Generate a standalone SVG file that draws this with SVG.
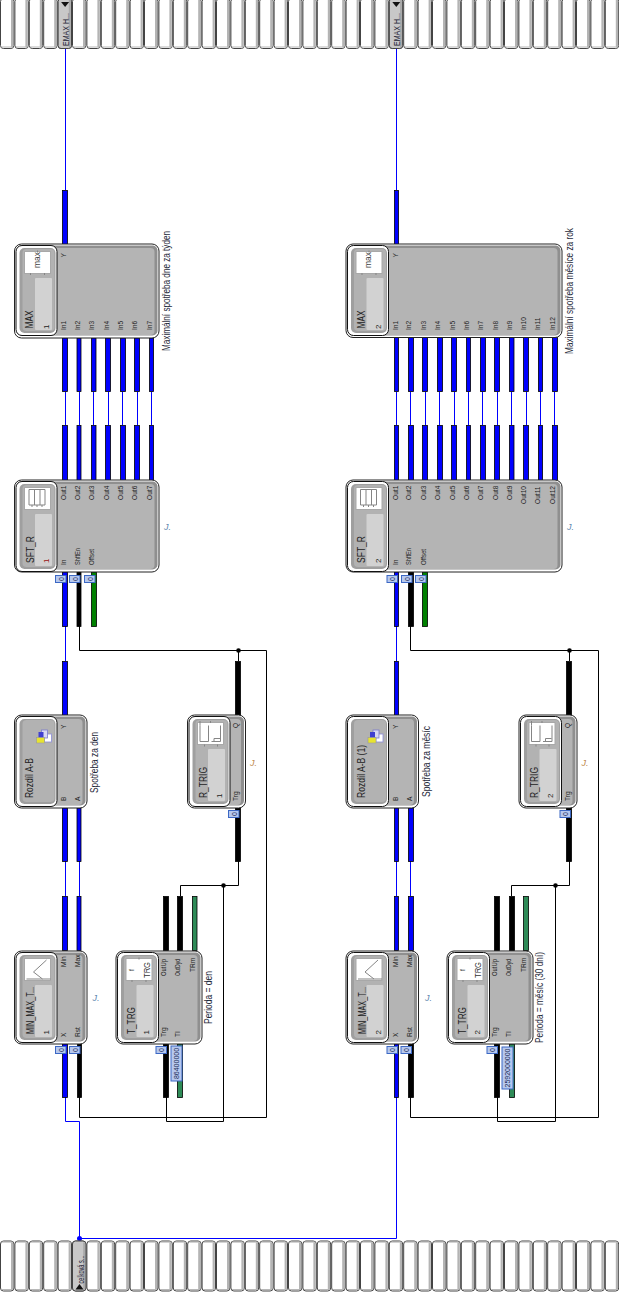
<svg xmlns="http://www.w3.org/2000/svg" xmlns:xlink="http://www.w3.org/1999/xlink" width="619" height="1292" viewBox="0 0 619 1292">
<style>
text{font-family:"Liberation Sans",Arial,sans-serif;fill:#1c1c1c}
.port{font-size:6.6px}
.name{font-size:10.5px;fill:#222}
.num{font-size:8px;fill:#222}
.desc{font-size:10px;fill:#1f2a3a}
.mark{font-size:9px;font-style:italic;fill:#5f88b0}
.mo{fill:#c08a50}
.band{font-size:8.5px;fill:#223}
.cv{font-size:7px;fill:#1a2a55;text-anchor:middle}
.w{fill:none;stroke-width:1}
.wb{stroke:#0000ff}
.wk{stroke:#000}
.sb{fill:#0000ff;stroke:#000;stroke-width:.8}
.sk{fill:#000;stroke:#000;stroke-width:.8}
.sg{fill:#008000;stroke:#000;stroke-width:.8}
.ss{fill:#2e8b57;stroke:#000;stroke-width:.8}
.jb{fill:#0000ff}
.jk{fill:#000}
.o{fill:#fff;stroke:#222;stroke-width:1}
.e{fill:#8f8f8f}
.f{fill:#b4b4b4}
.pa{fill:#fff;stroke:#111;stroke-width:1}
.pb{fill:#9f9f9f}
.pc{fill:#b2b2b2}
.im{fill:#fff;stroke:#a8a8a8;stroke-width:1}
.lt{fill:#d2d2d2}
.c{fill:#b6c8ee;stroke:#3c68c4;stroke-width:1}
.ic{fill:none;stroke:#858585;stroke-width:1}
</style>
<defs>
<g id="cell">
<rect x="0.5" y="0.5" width="13.4" height="50" rx="3" fill="#fff" stroke="#444"/>
<rect x="11" y="2" width="2.2" height="47" fill="#b4b4b4"/>
<rect x="1.500" y="1" width="11.400" height="1" fill="#a8a8a8"/>
<rect x="1.500" y="48.500" width="11.400" height="1" fill="#b8b8b8"/>
</g>
<g id="row">
<use xlink:href="#cell" x="0"/><use xlink:href="#cell" x="14.4"/><use xlink:href="#cell" x="28.8"/><use xlink:href="#cell" x="43.2"/><use xlink:href="#cell" x="57.6"/><use xlink:href="#cell" x="72"/><use xlink:href="#cell" x="86.4"/><use xlink:href="#cell" x="100.8"/><use xlink:href="#cell" x="115.2"/><use xlink:href="#cell" x="129.6"/><use xlink:href="#cell" x="144"/><use xlink:href="#cell" x="158.4"/><use xlink:href="#cell" x="172.8"/><use xlink:href="#cell" x="187.2"/><use xlink:href="#cell" x="201.6"/><use xlink:href="#cell" x="216"/><use xlink:href="#cell" x="230.4"/><use xlink:href="#cell" x="244.8"/><use xlink:href="#cell" x="259.2"/><use xlink:href="#cell" x="273.6"/><use xlink:href="#cell" x="288"/><use xlink:href="#cell" x="302.4"/><use xlink:href="#cell" x="316.8"/><use xlink:href="#cell" x="331.2"/><use xlink:href="#cell" x="345.6"/><use xlink:href="#cell" x="360"/><use xlink:href="#cell" x="374.4"/><use xlink:href="#cell" x="388.8"/><use xlink:href="#cell" x="403.2"/><use xlink:href="#cell" x="417.6"/><use xlink:href="#cell" x="432"/><use xlink:href="#cell" x="446.4"/><use xlink:href="#cell" x="460.8"/><use xlink:href="#cell" x="475.2"/><use xlink:href="#cell" x="489.6"/><use xlink:href="#cell" x="504"/><use xlink:href="#cell" x="518.4"/><use xlink:href="#cell" x="532.8"/><use xlink:href="#cell" x="547.2"/><use xlink:href="#cell" x="561.6"/><use xlink:href="#cell" x="576"/><use xlink:href="#cell" x="590.4"/><use xlink:href="#cell" x="604.8"/>
</g>
<g id="hi">
<rect x="0.5" y="0.5" width="13.4" height="50" rx="3" fill="#c8c8c8" stroke="#444"/>
<rect x="11.200" y="2" width="2" height="47" fill="#aaa"/>
</g>
<g id="panel">
<rect x="1.5" y="1.5" width="41" height="90" rx="6" class="pa"/>
<rect x="5" y="4" width="36" height="85" rx="5" class="pb"/>
<rect x="8" y="5" width="32" height="82" rx="4" class="pc"/>
</g>
<g id="iconbox">
<rect x="10" y="7.5" width="26" height="22" class="im"/>
<rect x="20.5" y="34" width="17" height="52" rx="1" class="lt"/>
</g>
<g id="docs">
<rect x="30" y="19" width="7" height="8" fill="#fff" stroke="#8a8ad8" stroke-width=".8"/>
<rect x="27" y="15" width="6" height="8" fill="#d8d8f4" stroke="#7a7ad0" stroke-width=".8"/>
<rect x="24" y="17" width="5" height="7" fill="#4040d0"/>
<rect x="22" y="22.500" width="8" height="5.500" fill="#e8e430" stroke="#999" stroke-width=".6"/>
</g>
<path id="rampicon" class="ic" d="M12 28h24M32 9L19 21L28 28"/>
<path id="pulseicon" class="ic" d="M12.500 6v4.500v16h8.500v-16M24 26.500h9V10.500M26.500 26.500v-3h6M17 29.500v2M30 29.500v2M23 6v2"/>
<path id="sfticon" class="ic" d="M14.500 9.500h16v15.500h-16zM20 9.500v15.500M25.500 9.500v15.500M17.500 25v2M22.500 25v2M27.500 25v2"/>
<path id="maxticks" class="ic" d="M23 6.500v2M16 29v2M30 29v2"/>
</defs>

<g id="connectors">
<path class="w wb" d="M65.5 49V190M396.5 49V190"/>
<path class="w wb" d="M65.5 392V425M79.5 392V425M93.5 392V425M108.5 392V425M122.5 392V425M137.5 392V425M151.5 392V425"/>
<path class="w wb" d="M396.5 392V425M410.5 392V425M425.5 392V425M439.5 392V425M454.5 392V425M468.5 392V425M482.5 392V425M497.5 392V425M511.5 392V425M526.5 392V425M540.5 392V425M554.5 392V425"/>
<path class="w wb" d="M65.5 626V661M396.5 626V661M65.5 861V896M79.5 861V896M396.5 861V896M410.5 861V896"/>
<path class="w wb" d="M65.5 1097V1121.5H79.5V1238.5H396.5V1097"/>
<path class="w wk" d="M79.5 626V650.5H266.5V1117.5H79.5V1097M238.5 650.5V661M238.5 861V885.5H180.5V896M223.5 885.5V1121.5H166.5V1097"/>
<path class="w wk" d="M410.5 626V650.5H598.5V1117.5H410.5V1097M569.5 650.5V661M569.5 861V885.5H511.5V896M555.5 885.5V1121.5H497.5V1097"/>
<circle class="jb" cx="79.5" cy="1238.5" r="2.5"/>
<circle class="jk" cx="238.5" cy="650.5" r="2.3"/><circle class="jk" cx="223.5" cy="885.5" r="2.3"/>
<circle class="jk" cx="569.5" cy="650.5" r="2.3"/><circle class="jk" cx="555.5" cy="885.5" r="2.3"/>
<rect class="sb" x="62.5" y="190.5" width="5" height="54"/>
<rect class="sb" x="62.5" y="338" width="5" height="53.5"/><rect class="sb" x="77" y="338" width="4" height="53.5"/><rect class="sb" x="91.5" y="338" width="4.5" height="53.5"/><rect class="sb" x="105.5" y="338" width="5" height="53.5"/><rect class="sb" x="120.5" y="338" width="5" height="53.5"/><rect class="sb" x="134.5" y="338" width="5" height="53.5"/><rect class="sb" x="149.5" y="338" width="4" height="53.5"/>
<rect class="sb" x="62.5" y="425.5" width="5" height="55"/><rect class="sb" x="77" y="425.5" width="4" height="55"/><rect class="sb" x="91.5" y="425.5" width="4.5" height="55"/><rect class="sb" x="105.5" y="425.5" width="5" height="55"/><rect class="sb" x="120.5" y="425.5" width="5" height="55"/><rect class="sb" x="134.5" y="425.5" width="5" height="55"/><rect class="sb" x="149.5" y="425.5" width="4" height="55"/>
<rect class="sb" x="62.5" y="572" width="5" height="54.5"/><rect class="sk" x="77" y="572" width="4" height="54.5"/><rect class="sg" x="91.5" y="572" width="5" height="54.5"/>
<rect class="sb" x="62.5" y="661.5" width="5" height="54"/>
<rect class="sk" x="235.5" y="661.5" width="5" height="54"/>
<rect class="sb" x="62.5" y="808" width="5" height="53.5"/><rect class="sb" x="77" y="808" width="4" height="53.5"/>
<rect class="sk" x="235.5" y="808" width="5" height="53.5"/>
<rect class="sb" x="62.5" y="896.5" width="5" height="54"/><rect class="sb" x="77" y="896.5" width="4" height="54"/>
<rect class="sk" x="163.5" y="896.5" width="5" height="54"/><rect class="sk" x="177.5" y="896.5" width="5" height="54"/><rect class="ss" x="192.5" y="896.5" width="4.5" height="54"/>
<rect class="sb" x="62.5" y="1044" width="5" height="53.5"/><rect class="sk" x="77.5" y="1044" width="4" height="53.5"/>
<rect class="sk" x="163.5" y="1044" width="5" height="53.5"/><rect class="ss" x="177.5" y="1044" width="5" height="53.5"/>
<rect class="sb" x="394.5" y="190.5" width="4" height="54"/>
<rect class="sb" x="394.5" y="337.5" width="4" height="54"/><rect class="sb" x="408.5" y="337.5" width="5" height="54"/><rect class="sb" x="422.5" y="337.5" width="5" height="54"/><rect class="sb" x="437.5" y="337.5" width="5" height="54"/><rect class="sb" x="451.5" y="337.5" width="5" height="54"/><rect class="sb" x="466.5" y="337.5" width="4" height="54"/><rect class="sb" x="480.5" y="337.5" width="5" height="54"/><rect class="sb" x="494.5" y="337.5" width="5" height="54"/><rect class="sb" x="509.5" y="337.5" width="4.5" height="54"/><rect class="sb" x="523.5" y="337.5" width="5" height="54"/><rect class="sb" x="538.5" y="337.5" width="4" height="54"/><rect class="sb" x="552.5" y="337.5" width="5" height="54"/>
<rect class="sb" x="394.5" y="425.5" width="4" height="55"/><rect class="sb" x="408.5" y="425.5" width="5" height="55"/><rect class="sb" x="422.5" y="425.5" width="5" height="55"/><rect class="sb" x="437.5" y="425.5" width="5" height="55"/><rect class="sb" x="451.5" y="425.5" width="5" height="55"/><rect class="sb" x="466.5" y="425.5" width="4" height="55"/><rect class="sb" x="480.5" y="425.5" width="5" height="55"/><rect class="sb" x="494.5" y="425.5" width="5" height="55"/><rect class="sb" x="509.5" y="425.5" width="4.5" height="55"/><rect class="sb" x="523.5" y="425.5" width="5" height="55"/><rect class="sb" x="538.5" y="425.5" width="4" height="55"/><rect class="sb" x="552.5" y="425.5" width="5" height="55"/>
<rect class="sb" x="394.5" y="572" width="4" height="54.5"/><rect class="sk" x="408.5" y="572" width="5" height="54.5"/><rect class="sg" x="422.5" y="572" width="5" height="54.5"/>
<rect class="sb" x="394.5" y="661.5" width="4" height="54"/>
<rect class="sk" x="566.5" y="661.5" width="5" height="54"/>
<rect class="sb" x="394.5" y="808" width="4" height="53.5"/><rect class="sb" x="408.5" y="808" width="5" height="53.5"/>
<rect class="sk" x="566.5" y="808" width="5" height="53.5"/>
<rect class="sb" x="394.5" y="896.5" width="4" height="54"/><rect class="sb" x="408.5" y="896.5" width="5" height="54"/>
<rect class="sk" x="494.5" y="896.5" width="5" height="54"/><rect class="sk" x="509.5" y="896.5" width="5" height="54"/><rect class="ss" x="523.5" y="896.5" width="5" height="54"/>
<rect class="sb" x="394.5" y="1044" width="4" height="53.5"/><rect class="sk" x="408.5" y="1044" width="5" height="53.5"/>
<rect class="sk" x="494.5" y="1044" width="5" height="53.5"/><rect class="ss" x="509.5" y="1044" width="5" height="53.5"/>
</g>

<g id="band-top" transform="translate(0,-2)">
<use xlink:href="#row"/>
<g id="port-emax-1" transform="translate(57.6,0)"><use xlink:href="#hi"/><path d="M3.5 4h8l-4 5z" fill="#111"/><text class="band" transform="translate(11.5,48) rotate(-90)" textLength="33" lengthAdjust="spacingAndGlyphs">EMAX H...</text></g>
<g id="port-emax-2" transform="translate(388.8,0)"><use xlink:href="#hi"/><path d="M3.5 4h8l-4 5z" fill="#111"/><text class="band" transform="translate(11.5,48) rotate(-90)" textLength="33" lengthAdjust="spacingAndGlyphs">EMAX H...</text></g>
</g>
<g id="band-bottom" transform="translate(0,1240.5)">
<use xlink:href="#row"/>
<g id="port-celkova" transform="translate(72,0)"><use xlink:href="#hi"/><path d="M3.5 49h8l-4 -5.5z" fill="#111"/><text class="band" transform="translate(11.5,43) rotate(-90)" textLength="28" lengthAdjust="spacingAndGlyphs">celková s...</text></g>
</g>

<g id="max-1" transform="translate(14.5,244)">
<rect class="o" width="144.5" height="94" rx="7"/><rect class="e" x="2" y="1.5" width="141" height="90" rx="5"/><rect class="f" x="3" y="4" width="137" height="87" rx="4"/>
<use xlink:href="#panel"/><use xlink:href="#iconbox"/><use xlink:href="#maxticks"/>
<text transform="translate(25,24) rotate(-90)" style="font-size:8.5px;fill:#444">max</text>
<text class="name" transform="translate(18.5,84.5) rotate(-90)" textLength="18" lengthAdjust="spacingAndGlyphs">MAX</text>
<text class="num" transform="translate(34.5,85) rotate(-90)">1</text>
<g class="port">
<text transform="translate(51.5,13.5) rotate(-90)">Y</text>
<text transform="translate(51.5,86) rotate(-90)">In1</text><text transform="translate(65.5,86) rotate(-90)">In2</text><text transform="translate(79.5,86) rotate(-90)">In3</text><text transform="translate(94,86) rotate(-90)">In4</text><text transform="translate(108.5,86) rotate(-90)">In5</text><text transform="translate(122.5,86) rotate(-90)">In6</text><text transform="translate(137,86) rotate(-90)">In7</text>
</g>
<text class="desc" transform="translate(155,107) rotate(-90)" textLength="120" lengthAdjust="spacingAndGlyphs">Maximální spotřeba dne za týden</text>
</g>

<g id="sft-1" transform="translate(14.5,480)">
<rect class="o" width="144.5" height="92" rx="7"/><rect class="e" x="2" y="1.5" width="141" height="88" rx="5"/><rect class="f" x="3" y="4" width="137" height="85" rx="4"/>
<use xlink:href="#panel"/><use xlink:href="#iconbox"/><use xlink:href="#sfticon"/>
<text class="name" transform="translate(19,83) rotate(-90)" textLength="27" lengthAdjust="spacingAndGlyphs">SFT_R</text>
<text class="num" transform="translate(34.5,83) rotate(-90)" style="fill:#9a1010">1</text>
<g class="port">
<text transform="translate(51.5,85) rotate(-90)">In</text><text transform="translate(65.5,85) rotate(-90)" textLength="17" lengthAdjust="spacingAndGlyphs">ShftEn</text><text transform="translate(79.5,85) rotate(-90)" textLength="16" lengthAdjust="spacingAndGlyphs">Offset</text>
<text transform="translate(51.5,20) rotate(-90)">Out1</text><text transform="translate(65.5,20) rotate(-90)">Out2</text><text transform="translate(79.5,20) rotate(-90)">Out3</text><text transform="translate(94,20) rotate(-90)">Out4</text><text transform="translate(108.5,20) rotate(-90)">Out5</text><text transform="translate(122.5,20) rotate(-90)">Out6</text><text transform="translate(137,20) rotate(-90)">Out7</text>
</g>
<text class="mark" x="149.5" y="50">J.</text>
<rect class="c" x="41" y="95.5" width="10.5" height="7"/><text class="cv" transform="translate(49,99) rotate(-90)">0</text>
<rect class="c" x="55" y="95.5" width="10.5" height="7"/><text class="cv" transform="translate(63,99) rotate(-90)">0</text>
<rect class="c" x="70" y="95.5" width="10.5" height="7"/><text class="cv" transform="translate(78,99) rotate(-90)">0</text>
</g>

<g id="rozdil-1" transform="translate(14.5,715)">
<rect class="o" width="72.5" height="93" rx="7"/><rect class="e" x="2" y="1.5" width="69" height="89" rx="5"/><rect class="f" x="3" y="4" width="65" height="86" rx="4"/>
<use xlink:href="#panel"/><use xlink:href="#docs"/>
<text class="name" transform="translate(18.5,83) rotate(-90)" textLength="40" lengthAdjust="spacingAndGlyphs">Rozdíl A-B</text>
<g class="port"><text transform="translate(51.5,14) rotate(-90)">Y</text><text transform="translate(51.5,86) rotate(-90)">B</text><text transform="translate(65.5,86) rotate(-90)">A</text></g>
<text class="desc" transform="translate(83.5,78) rotate(-90)" textLength="61" lengthAdjust="spacingAndGlyphs">Spotřeba za den</text>
</g>

<g id="rtrig-1" transform="translate(187.5,715)">
<rect class="o" width="58" height="93" rx="7"/><rect class="e" x="2" y="1.5" width="54.5" height="89" rx="5"/><rect class="f" x="3" y="4" width="50.5" height="86" rx="4"/>
<use xlink:href="#panel"/><use xlink:href="#iconbox"/><use xlink:href="#pulseicon"/>
<text class="name" transform="translate(19,83) rotate(-90)" textLength="31" lengthAdjust="spacingAndGlyphs">R_TRIG</text>
<text class="num" transform="translate(34,83) rotate(-90)">1</text>
<g class="port"><text transform="translate(50.5,13) rotate(-90)">Q</text><text transform="translate(50.5,86) rotate(-90)">Trg</text></g>
<text class="mark mo" x="62.5" y="51">J.</text>
<rect class="c" x="41" y="95.5" width="10.5" height="7"/><text class="cv" transform="translate(49,99) rotate(-90)">0</text>
</g>

<g id="minmax-1" transform="translate(14.5,951)">
<rect class="o" width="72.5" height="93" rx="7"/><rect class="e" x="2" y="1.5" width="69" height="89" rx="5"/><rect class="f" x="3" y="4" width="65" height="86" rx="4"/>
<use xlink:href="#panel"/><use xlink:href="#iconbox"/><use xlink:href="#rampicon"/>
<text class="name" transform="translate(19.5,83) rotate(-90)" textLength="47" lengthAdjust="spacingAndGlyphs">MIN_MAX_T...</text>
<text class="num" transform="translate(34.5,83.5) rotate(-90)">1</text>
<g class="port"><text transform="translate(51.5,16) rotate(-90)">Min</text><text transform="translate(65.5,16) rotate(-90)">Max</text><text transform="translate(51.5,86) rotate(-90)">X</text><text transform="translate(65.5,86) rotate(-90)">Rst</text></g>
<text class="mark" x="78" y="50">J.</text>
<rect class="c" x="41" y="95.5" width="10.5" height="7"/><text class="cv" transform="translate(49,99) rotate(-90)">0</text>
<rect class="c" x="55" y="95.5" width="10.5" height="7"/><text class="cv" transform="translate(63,99) rotate(-90)">0</text>
</g>

<g id="ttrg-1" transform="translate(116,951)">
<rect class="o" width="86" height="93" rx="7"/><rect class="e" x="2" y="1.5" width="82.5" height="89" rx="5"/><rect class="f" x="3" y="4" width="78.5" height="86" rx="4"/>
<use xlink:href="#panel"/><use xlink:href="#iconbox"/><use xlink:href="#maxticks"/>
<text transform="translate(18,20) rotate(-90)" style="font-size:6.5px;fill:#444">f</text>
<text transform="translate(33.5,27) rotate(-90)" style="font-size:8.5px;fill:#333" textLength="16" lengthAdjust="spacingAndGlyphs">TRG</text>
<text class="name" transform="translate(18.5,83) rotate(-90)" textLength="27" lengthAdjust="spacingAndGlyphs">T_TRG</text>
<text class="num" transform="translate(33,83.5) rotate(-90)">1</text>
<g class="port"><text transform="translate(50,25) rotate(-90)" textLength="17" lengthAdjust="spacingAndGlyphs">OutUp</text><text transform="translate(64,25) rotate(-90)" textLength="17" lengthAdjust="spacingAndGlyphs">OutDyd</text><text transform="translate(79,21) rotate(-90)">TRm</text><text transform="translate(50,86) rotate(-90)">Trg</text><text transform="translate(64,86) rotate(-90)">TI</text></g>
<text class="desc" transform="translate(96,73) rotate(-90)" textLength="53" lengthAdjust="spacingAndGlyphs">Perioda = den</text>
<rect class="c" x="40" y="95.5" width="10.5" height="7"/><text class="cv" transform="translate(48,99) rotate(-90)">0</text>
<rect class="c" x="55" y="95" width="11" height="35"/><text class="cv" transform="translate(63,112.5) rotate(-90)">86400000</text>
</g>

<g id="max-2" transform="translate(346,244)">
<rect class="o" width="216" height="93.5" rx="7"/><rect class="e" x="2" y="1.5" width="212.5" height="90" rx="5"/><rect class="f" x="3" y="4" width="208.5" height="87" rx="4"/>
<use xlink:href="#panel"/><use xlink:href="#iconbox"/><use xlink:href="#maxticks"/>
<text transform="translate(25,24) rotate(-90)" style="font-size:8.5px;fill:#444">max</text>
<text class="name" transform="translate(18.5,84.5) rotate(-90)" textLength="18" lengthAdjust="spacingAndGlyphs">MAX</text>
<text class="num" transform="translate(34.5,85) rotate(-90)">2</text>
<g class="port">
<text transform="translate(51.5,13.5) rotate(-90)">Y</text>
<text transform="translate(51.5,86) rotate(-90)">In1</text><text transform="translate(65,86) rotate(-90)">In2</text><text transform="translate(79.5,86) rotate(-90)">In3</text><text transform="translate(94,86) rotate(-90)">In4</text><text transform="translate(108.5,86) rotate(-90)">In5</text><text transform="translate(122.5,86) rotate(-90)">In6</text><text transform="translate(137,86) rotate(-90)">In7</text><text transform="translate(151.5,86) rotate(-90)">In8</text><text transform="translate(165.5,86) rotate(-90)">In9</text><text transform="translate(180,86) rotate(-90)">In10</text><text transform="translate(194,86) rotate(-90)">In11</text><text transform="translate(208.5,86) rotate(-90)">In12</text>
</g>
<text class="desc" transform="translate(227,110) rotate(-90)" textLength="126" lengthAdjust="spacingAndGlyphs">Maximální spotřeba měsíce za rok</text>
</g>

<g id="sft-2" transform="translate(346,480)">
<rect class="o" width="216" height="92" rx="7"/><rect class="e" x="2" y="1.5" width="212.5" height="88" rx="5"/><rect class="f" x="3" y="4" width="208.5" height="85" rx="4"/>
<use xlink:href="#panel"/><use xlink:href="#iconbox"/><use xlink:href="#sfticon"/>
<text class="name" transform="translate(19,83) rotate(-90)" textLength="27" lengthAdjust="spacingAndGlyphs">SFT_R</text>
<text class="num" transform="translate(34.5,83) rotate(-90)">2</text>
<g class="port">
<text transform="translate(51.5,85) rotate(-90)">In</text><text transform="translate(65,85) rotate(-90)" textLength="17" lengthAdjust="spacingAndGlyphs">ShftEn</text><text transform="translate(79.5,85) rotate(-90)" textLength="16" lengthAdjust="spacingAndGlyphs">Offset</text>
<text transform="translate(51.5,20) rotate(-90)">Out1</text><text transform="translate(65,20) rotate(-90)">Out2</text><text transform="translate(79.5,20) rotate(-90)">Out3</text><text transform="translate(94,20) rotate(-90)">Out4</text><text transform="translate(108.5,20) rotate(-90)">Out5</text><text transform="translate(122.5,20) rotate(-90)">Out6</text><text transform="translate(137,20) rotate(-90)">Out7</text><text transform="translate(151.5,20) rotate(-90)">Out8</text><text transform="translate(165.5,20) rotate(-90)">Out9</text><text transform="translate(180,24) rotate(-90)">Out10</text><text transform="translate(194,24) rotate(-90)">Out11</text><text transform="translate(208.5,24) rotate(-90)">Out12</text>
</g>
<text class="mark" x="221" y="50">J.</text>
<rect class="c" x="41" y="95.5" width="10.5" height="7"/><text class="cv" transform="translate(49,99) rotate(-90)">0</text>
<rect class="c" x="55.5" y="95.5" width="10.5" height="7"/><text class="cv" transform="translate(63.5,99) rotate(-90)">0</text>
<rect class="c" x="69.5" y="95.5" width="10.5" height="7"/><text class="cv" transform="translate(77.5,99) rotate(-90)">0</text>
</g>

<g id="rozdil-2" transform="translate(346,715)">
<rect class="o" width="72.5" height="93" rx="7"/><rect class="e" x="2" y="1.5" width="69" height="89" rx="5"/><rect class="f" x="3" y="4" width="65" height="86" rx="4"/>
<use xlink:href="#panel"/><use xlink:href="#docs"/>
<text class="name" transform="translate(18.5,83) rotate(-90)" textLength="53" lengthAdjust="spacingAndGlyphs">Rozdíl A-B (1)</text>
<g class="port"><text transform="translate(51.5,14) rotate(-90)">Y</text><text transform="translate(51.5,86) rotate(-90)">B</text><text transform="translate(65.5,86) rotate(-90)">A</text></g>
<text class="desc" transform="translate(83.5,82) rotate(-90)" textLength="71" lengthAdjust="spacingAndGlyphs">Spotřeba za měsíc</text>
</g>

<g id="rtrig-2" transform="translate(519,715)">
<rect class="o" width="58" height="93" rx="7"/><rect class="e" x="2" y="1.5" width="54.5" height="89" rx="5"/><rect class="f" x="3" y="4" width="50.5" height="86" rx="4"/>
<use xlink:href="#panel"/><use xlink:href="#iconbox"/><use xlink:href="#pulseicon"/>
<text class="name" transform="translate(19,83) rotate(-90)" textLength="31" lengthAdjust="spacingAndGlyphs">R_TRIG</text>
<text class="num" transform="translate(34,83) rotate(-90)">2</text>
<g class="port"><text transform="translate(50.5,13) rotate(-90)">Q</text><text transform="translate(50.5,86) rotate(-90)">Trg</text></g>
<text class="mark mo" x="62.5" y="51">J.</text>
<rect class="c" x="41" y="95.5" width="10.5" height="7"/><text class="cv" transform="translate(49,99) rotate(-90)">0</text>
</g>

<g id="minmax-2" transform="translate(346,951)">
<rect class="o" width="72.5" height="93" rx="7"/><rect class="e" x="2" y="1.5" width="69" height="89" rx="5"/><rect class="f" x="3" y="4" width="65" height="86" rx="4"/>
<use xlink:href="#panel"/><use xlink:href="#iconbox"/><use xlink:href="#rampicon"/>
<text class="name" transform="translate(19.5,83) rotate(-90)" textLength="47" lengthAdjust="spacingAndGlyphs">MIN_MAX_T...</text>
<text class="num" transform="translate(34.5,83.5) rotate(-90)">2</text>
<g class="port"><text transform="translate(51.5,16) rotate(-90)">Min</text><text transform="translate(65.5,16) rotate(-90)">Max</text><text transform="translate(51.5,86) rotate(-90)">X</text><text transform="translate(65.5,86) rotate(-90)">Rst</text></g>
<text class="mark" x="79" y="50">J.</text>
<rect class="c" x="41" y="95.5" width="10.5" height="7"/><text class="cv" transform="translate(49,99) rotate(-90)">0</text>
<rect class="c" x="55" y="95.5" width="10.5" height="7"/><text class="cv" transform="translate(63,99) rotate(-90)">0</text>
</g>

<g id="ttrg-2" transform="translate(447,951)">
<rect class="o" width="86" height="93" rx="7"/><rect class="e" x="2" y="1.5" width="82.5" height="89" rx="5"/><rect class="f" x="3" y="4" width="78.5" height="86" rx="4"/>
<use xlink:href="#panel"/><use xlink:href="#iconbox"/><use xlink:href="#maxticks"/>
<text transform="translate(18,20) rotate(-90)" style="font-size:6.5px;fill:#444">f</text>
<text transform="translate(33.5,27) rotate(-90)" style="font-size:8.5px;fill:#333" textLength="16" lengthAdjust="spacingAndGlyphs">TRG</text>
<text class="name" transform="translate(18.5,83) rotate(-90)" textLength="27" lengthAdjust="spacingAndGlyphs">T_TRG</text>
<text class="num" transform="translate(33,83.5) rotate(-90)">2</text>
<g class="port"><text transform="translate(50,25) rotate(-90)" textLength="17" lengthAdjust="spacingAndGlyphs">OutUp</text><text transform="translate(64,25) rotate(-90)" textLength="17" lengthAdjust="spacingAndGlyphs">OutDyd</text><text transform="translate(79,21) rotate(-90)">TRm</text><text transform="translate(50,86) rotate(-90)">Trg</text><text transform="translate(64,86) rotate(-90)">TI</text></g>
<text class="desc" transform="translate(96,92) rotate(-90)" textLength="91" lengthAdjust="spacingAndGlyphs">Perioda = měsíc (30 dní)</text>
<rect class="c" x="40" y="95.5" width="10.5" height="7"/><text class="cv" transform="translate(48,99) rotate(-90)">0</text>
<rect class="c" x="55" y="96" width="11" height="42"/><text class="cv" transform="translate(63,117) rotate(-90)">2592000000</text>
</g>
</svg>
